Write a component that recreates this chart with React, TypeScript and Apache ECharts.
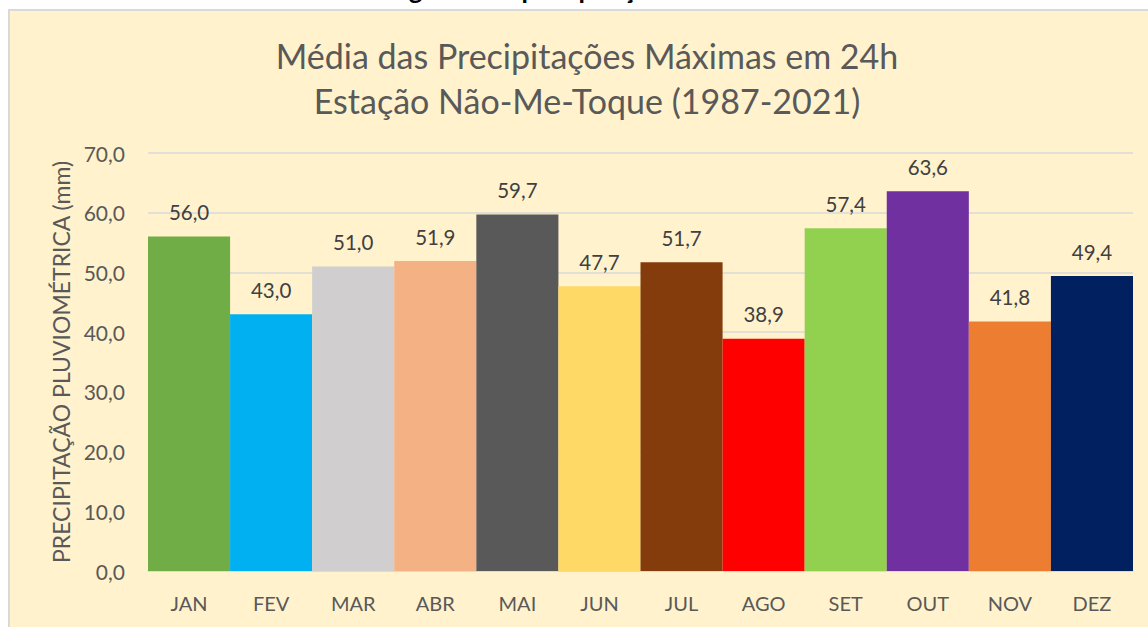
import React, { useEffect, useRef } from "react";
import * as echarts from "echarts";

const months = ["JAN", "FEV", "MAR", "ABR", "MAI", "JUN", "JUL", "AGO", "SET", "OUT", "NOV", "DEZ"];
const maxRain24h = [56.0, 43.0, 51.0, 51.9, 59.7, 47.7, 51.7, 38.9, 57.4, 63.6, 41.8, 49.4];
const barColors = ["#70AD47", "#00B0F0", "#D0CECE", "#F4B183", "#595959", "#FFD966", "#843C0C", "#FF0000", "#92D050", "#7030A0", "#ED7D31", "#002060"];
const titleLines = ["Média das Precipitações Máximas em 24h", "Estação Não-Me-Toque (1987-2021)"];
const yAxisName = "PRECIPITAÇÃO PLUVIOMÉTRICA (mm)";

const FONT = "Lato, 'Open Sans', sans-serif";
const fmt = (v: number) => v.toFixed(1).replace(".", ",");

export default function App() {
  const ref = useRef<HTMLDivElement>(null);
  useEffect(() => {
    if (!ref.current) return;
    const chart = echarts.init(ref.current, null, { renderer: "svg" });
    chart.setOption({
      animation: false,
      backgroundColor: "#FFFFFF",
      textStyle: { fontFamily: FONT },
      graphic: [
        {
          type: "rect",
          z: -10,
          shape: { x: 9, y: 10, width: 1160, height: 640 },
          style: { fill: "#FFF2CC", stroke: "#D9D9D9", lineWidth: 2 },
          silent: true,
        },
        {
          type: "text",
          z: -5,
          x: 505,
          y: -24,
          style: {
            text: "Histograma de precipitação",
            fontFamily: FONT,
            fontWeight: "bold",
            fontSize: 26,
            fill: "#000000",
            textAlign: "center",
            textVerticalAlign: "top",
          },
          silent: true,
        },
        {
          type: "text",
          x: 587,
          y: 55,
          style: {
            text: titleLines[0],
            fontFamily: FONT,
            fontSize: 34,
            fill: "#595959",
            textAlign: "center",
            textVerticalAlign: "middle",
          },
        },
        {
          type: "text",
          x: 587,
          y: 100,
          style: {
            text: titleLines[1],
            fontFamily: FONT,
            fontSize: 34,
            fill: "#595959",
            textAlign: "center",
            textVerticalAlign: "middle",
          },
        },
      ],
      grid: { left: 148, right: 15, top: 153, bottom: 56, containLabel: false },
      xAxis: {
        type: "category",
        data: months,
        axisLine: { show: true, lineStyle: { color: "#D9D9D9", width: 1.5 } },
        axisTick: { show: false },
        axisLabel: { color: "#595959", fontSize: 20, margin: 22, fontFamily: FONT },
      },
      yAxis: {
        type: "value",
        min: 0,
        max: 70,
        interval: 10,
        name: yAxisName,
        nameLocation: "middle",
        nameRotate: 90,
        nameGap: 76,
        nameTextStyle: { color: "#595959", fontSize: 23, fontFamily: FONT },
        axisLine: { show: false },
        axisTick: { show: false },
        splitLine: { lineStyle: { color: "#D9D9D9", width: 1.5 } },
        axisLabel: { color: "#595959", fontSize: 21, margin: 23, fontFamily: FONT, formatter: (v: number) => fmt(v) },
      },
      series: [
        {
          type: "bar",
          barCategoryGap: "0%",
          data: maxRain24h.map((v, i) => ({ value: v, itemStyle: { color: barColors[i] } })),
          label: {
            show: true,
            position: "top",
            distance: 14,
            color: "#404040",
            fontSize: 20.5,
            fontFamily: FONT,
            formatter: (p: any) => fmt(p.value),
          },
        },
      ],
    });
    return () => chart.dispose();
  }, []);
  return <div ref={ref} style={{ position: "fixed", left: 0, top: 0, width: 1148, height: 627 }} />;
}
